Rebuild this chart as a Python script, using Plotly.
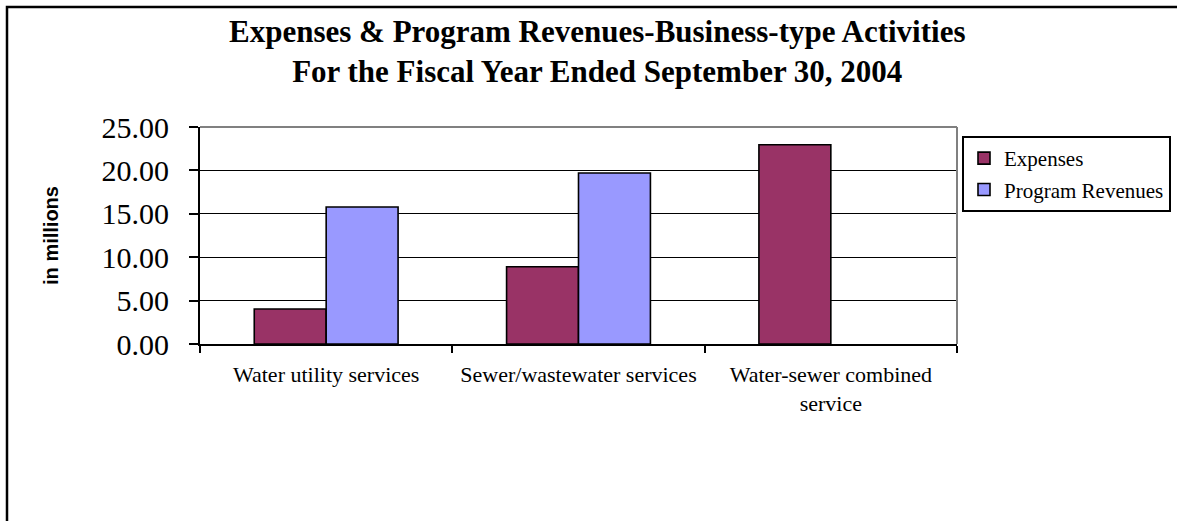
import plotly.graph_objects as go

# Business-type activities, fiscal year ended September 30, 2004 (in millions)
categories = ["Water utility services", "Sewer/wastewater services", "Water-sewer combined service"]
category_labels = ["Water utility services", "Sewer/wastewater services", "Water-sewer combined<br>service"]
expenses = [4.03, 8.90, 22.95]
program_revenues = [15.78, 19.70, None]
y_ticks = [0, 5, 10, 15, 20, 25]

SERIF = "Liberation Serif"
SANS = "Liberation Sans"

fig = go.Figure()
fig.add_trace(go.Bar(
    name="Expenses", x=categories, y=expenses,
    marker=dict(color="#993366", line=dict(color="black", width=1.6)),
    legendgroup="a",
))
fig.add_trace(go.Bar(
    name="Program Revenues", x=categories, y=program_revenues,
    marker=dict(color="#9999FF", line=dict(color="black", width=1.6)),
    legendgroup="b",
))

W, H = 1177, 521
L, R, T, B = 200, 220, 127, 177
pw, ph = W - L - R, H - T - B

def px_x(p):
    return (p - L) / pw

def px_y(p):
    return (H - B - p) / ph

fig.update_layout(
    width=W, height=H,
    margin=dict(l=L, r=R, t=T, b=B, pad=0, autoexpand=False),
    paper_bgcolor="white", plot_bgcolor="white",
    barmode="group", bargap=0.43, bargroupgap=0,
    font=dict(family=SERIF, color="black"),
    xaxis=dict(
        tickvals=categories, ticktext=category_labels, tickangle=0,
        tickson="boundaries", ticks="outside", ticklen=7, tickwidth=1.5, tickcolor="black",
        ticklabelstandoff=10,
        showline=True, linecolor="black", linewidth=2,
        tickfont=dict(family=SERIF, size=22, color="black"),
        showgrid=False, zeroline=False,
    ),
    yaxis=dict(
        range=[0, 25], tickvals=y_ticks, tickformat=".2f",
        ticks="outside", ticklen=9, tickwidth=1.5, tickcolor="black",
        ticklabelstandoff=14,
        showline=True, linecolor="black", linewidth=2,
        showgrid=True, gridcolor="black", gridwidth=1.3, zeroline=False,
        tickfont=dict(family=SERIF, size=30, color="black"),
        title=dict(text="<b>in millions</b>", font=dict(family=SANS, size=20, color="black"), standoff=38),
    ),
    legend=dict(
        x=px_x(962), y=px_y(136), xanchor="left", yanchor="top",
        bgcolor="white", bordercolor="black", borderwidth=2,
        font=dict(family=SERIF, size=21, color="black"),
        tracegroupgap=1, traceorder="grouped", itemwidth=30,
    ),
    annotations=[
        dict(
            text="<b>Expenses & Program Revenues-Business-type Activities<br>For the Fiscal Year Ended September 30, 2004</b>",
            xref="paper", yref="paper", x=px_x(597), y=px_y(12),
            xanchor="center", yanchor="top", showarrow=False,
            font=dict(family=SERIF, size=31, color="black"),
        ),
    ],
    shapes=[
        # gray plot-area border on top and right
        dict(type="line", xref="paper", yref="paper", x0=0, x1=1, y0=1, y1=1,
             line=dict(color="#808080", width=2), layer="above"),
        dict(type="line", xref="paper", yref="paper", x0=1, x1=1, y0=0, y1=1,
             line=dict(color="#808080", width=2), layer="above"),
        # outer chart frame
        dict(type="rect", xref="paper", yref="paper",
             x0=px_x(7), x1=px_x(W + 20), y0=px_y(H + 20), y1=px_y(7),
             line=dict(color="black", width=2.5), fillcolor="rgba(0,0,0,0)", layer="above"),
    ],
)

fig.write_html("out.html")
